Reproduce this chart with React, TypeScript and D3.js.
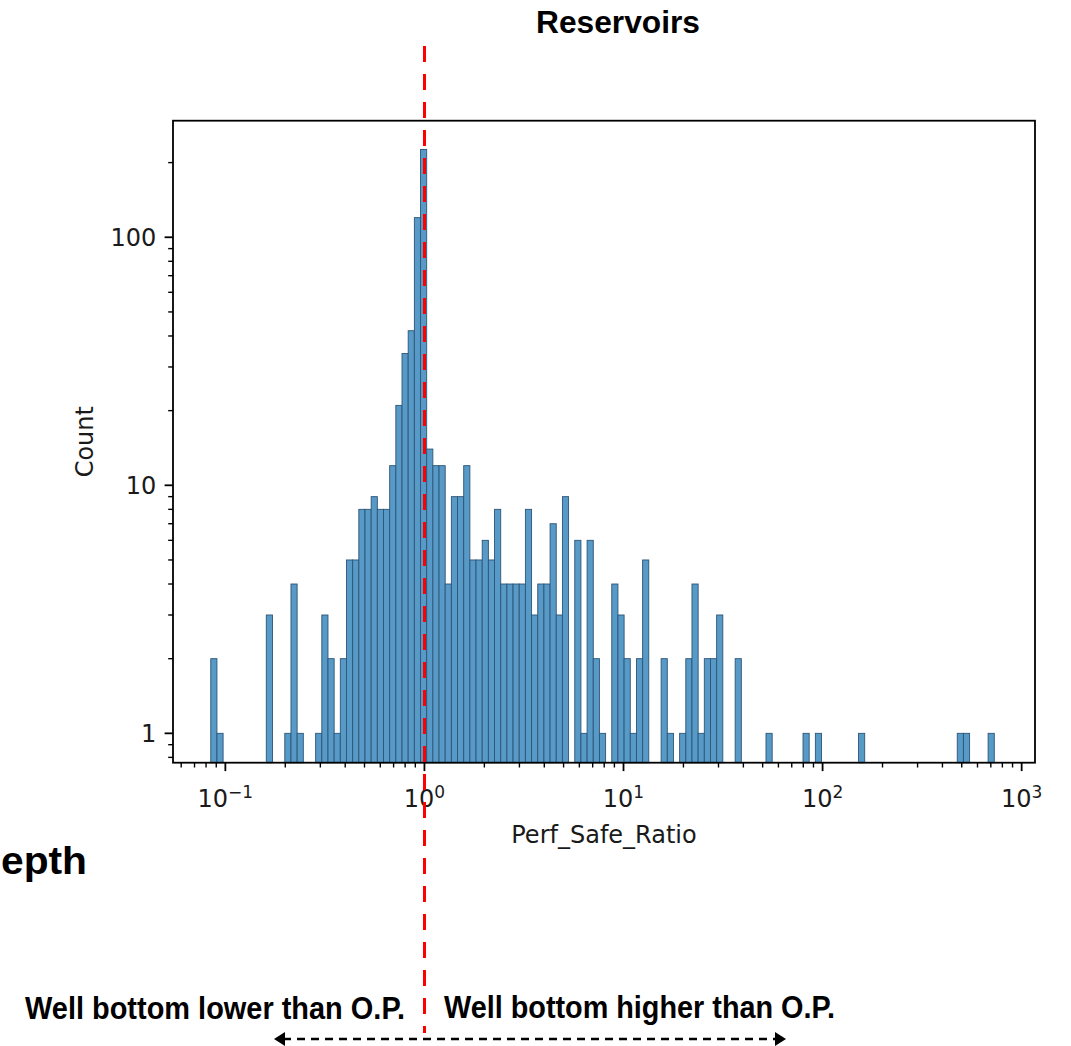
import React from "react";
import * as d3 from "d3";

// ---- data ----
const binCounts: number[] = [
  2, 1, 0, 0, 0, 0, 0, 0, 0, 3,
  0, 0, 1, 4, 1, 0, 0, 1, 3, 2,
  1, 2, 5, 5, 8, 8, 9, 8, 8, 12,
  21, 34, 42, 120, 226, 14, 12, 12, 4, 9,
  9, 12, 5, 5, 6, 5, 8, 4, 4, 4,
  4, 8, 3, 4, 4, 7, 3, 9, 0, 6,
  1, 6, 2, 1, 0, 4, 3, 2, 1, 2,
  5, 0, 0, 2, 1, 0, 1, 2, 4, 1,
  2, 2, 3, 0, 0, 2, 0, 0, 0, 0,
  1, 0, 0, 0, 0, 0, 1, 0, 1, 0,
  0, 0, 0, 0, 0, 1, 0, 0, 0, 0,
  0, 0, 0, 0, 0, 0, 0, 0, 0, 0,
  0, 1, 1, 0, 0, 0, 1,
];
const binLogMin = -1.0733; // log10 of the first bin edge
const binLogMax = 2.8624; // log10 of the last bin edge
const xDomainLog: [number, number] = [-1.263, 3.067];
const yDomain: [number, number] = [0.7614, 295.1];
const xMajorTicks = [0.1, 1, 10, 100, 1000];
const xTickExponents = ["\u22121", "0", "1", "2", "3"];
const yMajorTicks = [1, 10, 100];
const yTickLabels = ["1", "10", "100"];
const refValue = 1;
const xLabel = "Perf_Safe_Ratio";
const yLabel = "Count";
const titleText = "Reservoirs";
const leftNote = "Well bottom lower than O.P.";
const rightNote = "Well bottom higher than O.P.";
const sideText = "epth";

const W = 1071;
const H = 1046;
const plot = { left: 173, right: 1035, top: 120.7, bottom: 762.7 };
const axisFont = "'DejaVu Sans', sans-serif";
const slideFont = "'Liberation Sans', Arial, sans-serif";
const textColor = "#1a1a1a";

export default function App() {
  const xs = d3
    .scaleLog()
    .domain([Math.pow(10, xDomainLog[0]), Math.pow(10, xDomainLog[1])])
    .range([plot.left, plot.right]);
  const ys = d3.scaleLog().domain(yDomain).range([plot.bottom, plot.top]);

  const n = binCounts.length;
  const bw = (binLogMax - binLogMin) / n;
  const bars = binCounts
    .map((c, i) => ({
      c,
      x0: Math.pow(10, binLogMin + i * bw),
      x1: Math.pow(10, binLogMin + (i + 1) * bw),
    }))
    .filter((d) => d.c > 0);

  const [xd0, xd1] = xs.domain();
  const xMinor: number[] = [];
  for (let e = -3; e <= 3; e++) {
    for (let k = 2; k <= 9; k++) {
      const v = k * Math.pow(10, e);
      if (v >= xd0 && v <= xd1) xMinor.push(v);
    }
  }
  const [yd0, yd1] = ys.domain();
  const yMinor: number[] = [];
  for (let e = -1; e <= 3; e++) {
    for (let k = 2; k <= 9; k++) {
      const v = k * Math.pow(10, e);
      if (v >= yd0 && v <= yd1) yMinor.push(v);
    }
  }

  const majorLen = 8.4;
  const minorLen = 4.8;
  const pad = 8.4;
  const xRef = Math.round(xs(refValue));

  const arrowY = 1039;
  const arrowX0 = 274;
  const arrowX1 = 786;

  return (
    <svg
      width={W}
      height={H}
      style={{ position: "absolute", left: 0, top: 0, background: "#fff" }}
    >
      <rect x={0} y={0} width={W} height={H} fill="#fff" />
      {/* bars */}
      <g>
        {bars.map((d, i) => (
          <rect
            key={i}
            x={xs(d.x0)}
            y={ys(d.c)}
            width={xs(d.x1) - xs(d.x0)}
            height={plot.bottom - ys(d.c)}
            fill="rgb(87,153,199)"
            stroke="rgb(45,85,118)"
            strokeWidth={0.9}
          />
        ))}
      </g>
      {/* axes frame */}
      <rect
        x={plot.left}
        y={plot.top}
        width={plot.right - plot.left}
        height={plot.bottom - plot.top}
        fill="none"
        stroke="#000"
        strokeWidth={1.8}
      />
      {/* ticks */}
      <g stroke="#000">
        {xMajorTicks.map((v) => (
          <line key={"xM" + v} x1={xs(v)} x2={xs(v)} y1={plot.bottom} y2={plot.bottom + majorLen} strokeWidth={1.8} />
        ))}
        {xMinor.map((v) => (
          <line key={"xm" + v} x1={xs(v)} x2={xs(v)} y1={plot.bottom} y2={plot.bottom + minorLen} strokeWidth={1.4} />
        ))}
        {yMajorTicks.map((v) => (
          <line key={"yM" + v} x1={plot.left - majorLen} x2={plot.left} y1={ys(v)} y2={ys(v)} strokeWidth={1.8} />
        ))}
        {yMinor.map((v) => (
          <line key={"ym" + v} x1={plot.left - minorLen} x2={plot.left} y1={ys(v)} y2={ys(v)} strokeWidth={1.4} />
        ))}
      </g>
      {/* tick labels and axis titles */}
      <g fontFamily={axisFont} fill={textColor}>
        {xMajorTicks.map((v, i) => (
          <text key={"xl" + v} x={xs(v)} y={807} fontSize={24} textAnchor="middle">
            10
            <tspan fontSize={17} dy={-9}>
              {xTickExponents[i]}
            </tspan>
          </text>
        ))}
        {yMajorTicks.map((v, i) => (
          <text
            key={"yl" + v}
            x={plot.left - majorLen - pad}
            y={ys(v) + 8.6}
            fontSize={24}
            textAnchor="end"
          >
            {yTickLabels[i]}
          </text>
        ))}
        <text x={(plot.left + plot.right) / 2} y={842.5} fontSize={24} textAnchor="middle">
          {xLabel}
        </text>
        <text
          transform={`translate(93, ${(plot.top + plot.bottom) / 2}) rotate(-90)`}
          fontSize={24}
          textAnchor="middle"
        >
          {yLabel}
        </text>
      </g>
      {/* slide annotations */}
      <g fontFamily={slideFont} fontWeight="bold" fill="#000">
        <text x={536} y={33} fontSize={32} textLength={164} lengthAdjust="spacingAndGlyphs">
          {titleText}
        </text>
        <text x={1} y={874} fontSize={39} textLength={86} lengthAdjust="spacingAndGlyphs">
          {sideText}
        </text>
        <text x={25} y={1019} fontSize={32} textLength={380} lengthAdjust="spacingAndGlyphs">
          {leftNote}
        </text>
        <text x={444} y={1018} fontSize={32} textLength={391} lengthAdjust="spacingAndGlyphs">
          {rightNote}
        </text>
      </g>
      {/* dashed double arrow */}
      <line
        x1={arrowX0 + 9}
        x2={arrowX1 - 9}
        y1={arrowY}
        y2={arrowY}
        stroke="#000"
        strokeWidth={2.5}
        strokeDasharray="8 6"
      />
      <path d={`M${arrowX0},${arrowY} L${arrowX0 + 11},${arrowY - 7} L${arrowX0 + 11},${arrowY + 7} Z`} fill="#000" />
      <path d={`M${arrowX1},${arrowY} L${arrowX1 - 11},${arrowY - 7} L${arrowX1 - 11},${arrowY + 7} Z`} fill="#000" />
      {/* red reference line */}
      <line
        x1={xRef + 0.5}
        x2={xRef + 0.5}
        y1={46}
        y2={1033}
        stroke="#ff0000"
        strokeWidth={3}
        strokeDasharray="16 12"
      />
    </svg>
  );
}
